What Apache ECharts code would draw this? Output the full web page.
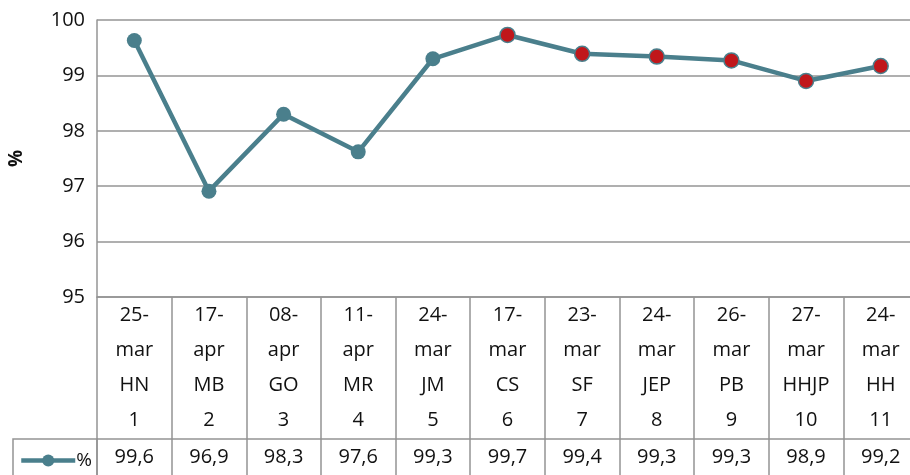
<!DOCTYPE html>
<html>
<head>
<meta charset="utf-8">
<script src="https://cdn.jsdelivr.net/npm/echarts@6/dist/echarts.min.js"></script>
<style>
  html, body { margin: 0; padding: 0; background: #fff; overflow: hidden; }
  #chart { width: 920px; height: 475px; }
</style>
</head>
<body>
<div id="chart"></div>
<script>
// categories: date, initials, number
var dates = ['25-\nmar', '17-\napr', '08-\napr', '11-\napr', '24-\nmar', '17-\nmar', '23-\nmar', '24-\nmar', '26-\nmar', '27-\nmar', '24-\nmar'];
var names = ['HN', 'MB', 'GO', 'MR', 'JM', 'CS', 'SF', 'JEP', 'PB', 'HHJP', 'HH'];
var nums = ['1', '2', '3', '4', '5', '6', '7', '8', '9', '10', '11'];
// plotted values and the rounded values shown in the table
var values = [99.63, 96.91, 98.30, 97.62, 99.30, 99.73, 99.39, 99.34, 99.27, 98.90, 99.17];
var tableValues = ['99,6', '96,9', '98,3', '97,6', '99,3', '99,7', '99,4', '99,3', '99,3', '98,9', '99,2'];
// points from index 6 on are drawn red
var redFrom = 5;

var teal = '#4a7f8c';
var red = '#c0171b';
var gray = '#949494';
var ink = '#111';
var font = 'Open Sans';

var cats = dates.map(function (d, i) { return d + '\n' + names[i] + '\n' + nums[i]; });

var chart = echarts.init(document.getElementById('chart'));
chart.setOption({
  animation: false,
  textStyle: { fontFamily: font },
  grid: { left: 97, top: 20, width: 821, height: 277, outerBoundsMode: 'none', containLabel: false },
  legend: {
    left: 14, top: 446,
    itemWidth: 54, itemHeight: 15, itemGap: 0,
    textStyle: { fontSize: 19, color: ink, fontFamily: font, padding: [0, 0, 0, -4] },
    data: [{ name: '%', lineStyle: { width: 4.5 } }]
  },
  graphic: [
    { type: 'rect', shape: { x: 13, y: 439, width: 84, height: 60 }, style: { fill: 'none', stroke: gray, lineWidth: 1.5 }, silent: true }
  ],
  xAxis: [
    {
      type: 'category',
      data: cats,
      position: 'bottom',
      axisLine: { lineStyle: { color: gray, width: 1.5 } },
      axisTick: { show: true, interval: 0, length: 180, lineStyle: { color: gray, width: 1.5 } },
      axisLabel: { interval: 0, fontSize: 20, lineHeight: 35, color: ink, margin: 1, fontFamily: font }
    },
    {
      type: 'category',
      data: cats,
      position: 'bottom',
      offset: 142,
      axisLine: { lineStyle: { color: gray, width: 1.5 } },
      axisTick: { show: false },
      axisLabel: {
        interval: 0, fontSize: 20, color: ink, margin: 8, fontFamily: font,
        formatter: function (v, i) { return tableValues[i]; }
      }
    }
  ],
  yAxis: {
    type: 'value',
    min: 95, max: 100, interval: 1,
    name: '%',
    nameLocation: 'middle',
    nameGap: 71,
    nameTextStyle: { fontSize: 19, fontWeight: 'bold', color: ink, fontFamily: font },
    axisLine: { show: true, lineStyle: { color: gray, width: 1.5 } },
    axisTick: { show: false },
    splitLine: { lineStyle: { color: gray, width: 1.5 } },
    axisLabel: { fontSize: 20, color: ink, margin: 12, fontFamily: font }
  },
  series: [{
    name: '%',
    type: 'line',
    data: values.map(function (v, i) {
      return i >= redFrom ? { value: v, itemStyle: { color: red, borderColor: teal, borderWidth: 1.5 } } : v;
    }),
    symbol: 'circle',
    symbolSize: 15,
    lineStyle: { color: teal, width: 4.5 },
    itemStyle: { color: teal }
  }]
});
</script>
</body>
</html>
